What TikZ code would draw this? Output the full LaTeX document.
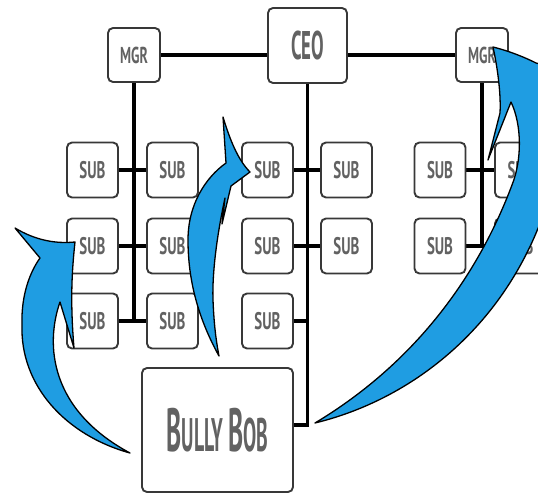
\documentclass[tikz,border=0pt]{standalone}
\usepackage{fontspec}
\setmainfont{PT Sans}
\usepackage{graphicx}
\usetikzlibrary{backgrounds}
\definecolor{boxline}{HTML}{383838}
\definecolor{txt}{HTML}{626262}
\definecolor{arrowblue}{HTML}{1F9DE2}
\newcommand{\boxtext}[3]{\scalebox{#2}[1]{\bfseries\fontsize{#1}{#1}\selectfont #3}}
\newcommand{\subtext}{\boxtext{24}{0.62}{SUB}}
\newcommand{\mgrtext}{\boxtext{23}{0.6}{MGR}}
\tikzset{
  box/.style={draw=boxline, line width=1.9pt, rounded corners=5pt, fill=white,
    inner sep=0pt, text=txt},
  subbox/.style={box, minimum width=51pt, minimum height=55pt},
  mgrbox/.style={box, minimum width=52pt, minimum height=54pt},
  ceobox/.style={box, minimum width=79pt, minimum height=75pt},
  bobbox/.style={box, minimum width=151pt, minimum height=124pt},
  link/.style={line width=3.2pt, black},
  bigarrow/.style={fill=arrowblue, draw=black, line width=1.3pt, line join=round}
}
\begin{document}
\begin{tikzpicture}[x=1pt,y=-1pt]
\useasboundingbox (0,0) rectangle (538,495);
\clip (0,0) rectangle (538,495);
\node[mgrbox] (mgr1) at (134,55) {\mgrtext};
\node[ceobox] (ceo) at (307.5,45.5) {\boxtext{40}{0.47}{CEO}};
\node[mgrbox] (mgr2) at (482,55) {\mgrtext};
\node[subbox] (a11) at (92.5,170) {\subtext};
\node[subbox] (a12) at (172.5,170) {\subtext};
\node[subbox] (a21) at (92.5,246) {\subtext};
\node[subbox] (a22) at (172.5,246) {\subtext};
\node[subbox] (a31) at (92.5,321) {\subtext};
\node[subbox] (a32) at (172.5,321) {\subtext};
\node[subbox] (b11) at (267.5,170) {\subtext};
\node[subbox] (b12) at (346.5,170) {\subtext};
\node[subbox] (b21) at (267.5,246) {\subtext};
\node[subbox] (b22) at (346.5,246) {\subtext};
\node[subbox] (b31) at (267.5,321) {\subtext};
\node[subbox] (c11) at (440,170) {\subtext};
\node[subbox] (c12) at (520.5,170) {\subtext};
\node[subbox] (c21) at (440,246) {\subtext};
\node[subbox] (c22) at (520.5,246) {\subtext};
\node[bobbox] (bob) at (217.5,430) {\boxtext{61}{0.42}{B\fontsize{47}{47}\selectfont ULLY \fontsize{61}{61}\selectfont B\fontsize{47}{47}\selectfont OB}};
\begin{pgfonlayer}{background}
  \draw[link] (mgr1) -- (mgr2);
  \draw[link] (mgr1) -- (mgr1 |- a31);
  \draw[link] (a11) -- (a12);
  \draw[link] (a21) -- (a22);
  \draw[link] (a31) -- (a32);
  \draw[link] (ceo) |- ([yshift=5pt]bob.east);
  \draw[link] (b11) -- (b12);
  \draw[link] (b21) -- (b22);
  \draw[link] (b31) -- (b31 -| ceo);
  \draw[link] (mgr2) -- (mgr2 |- c21);
  \draw[link] (c11) -- (c12);
  \draw[link] (c21) -- (c22);
\end{pgfonlayer}
% left arrow
\draw[bigarrow] (130,453) .. controls (65,435) and (20,385) .. (22,325)
  .. controls (21,295) and (30,272) .. (40,258) -- (15,228)
  .. controls (35,240) and (55,244) .. (75,242)
  .. controls (72,270) and (70,300) .. (74,348) -- (60,302)
  .. controls (45,345) and (50,410) .. (130,453) -- cycle;
% middle arrow
\draw[bigarrow] (219,356) .. controls (198,318) and (188,280) .. (188,240)
  .. controls (188,205) and (205,178) .. (226,163) -- (223,117)
  .. controls (230,140) and (238,160) .. (250,172) -- (231,186) -- (222,224) -- (225,198)
  .. controls (218,230) and (212,270) .. (213,300)
  .. controls (214,325) and (216,340) .. (219,356) -- cycle;
% right arrow
\draw[bigarrow] (315,423) .. controls (430,395) and (535,300) .. (560,150)
  -- (565,70) -- (536,63) .. controls (520,55) and (505,50) .. (493,47)
  .. controls (498,70) and (501,95) .. (500,113) -- (488,160) -- (511,102)
  .. controls (522,125) and (522,160) .. (512,185)
  .. controls (480,270) and (420,360) .. (315,423) -- cycle;
\end{tikzpicture}
\end{document}
